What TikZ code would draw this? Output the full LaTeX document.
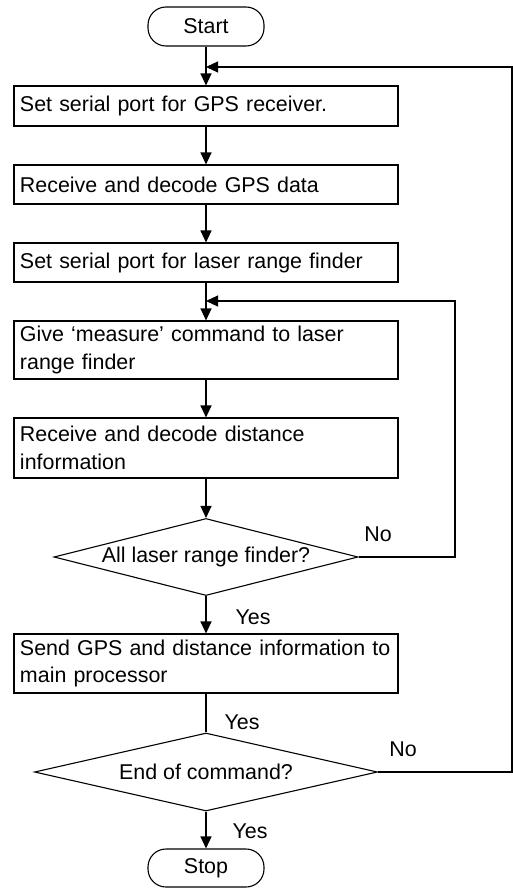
\documentclass[tikz,border=0pt]{standalone}
\usepackage{fontspec}
\setmainfont{Liberation Sans}
\usetikzlibrary{arrows.meta, shapes.geometric}

\tikzset{
  every node/.style={font=\fontsize{21.5}{27.5}\selectfont},
  terminal/.style={draw, rounded corners=18bp, minimum width=116bp, minimum height=39bp, inner sep=0pt},
  process/.style={draw, rectangle, minimum width=384bp, text width=372bp, align=left, inner xsep=6bp, inner ysep=0pt},
  decision/.style={draw, diamond, inner sep=0pt},
  flow/.style={-{Triangle[length=12bp,width=11bp]}},
}

\begin{document}
\begin{tikzpicture}[x=1bp, y=-1bp, line width=1.1bp]
\useasboundingbox (0,0) rectangle (513,888);

\node[terminal] (start) at (206,26.5) {Start};
\node[process, minimum height=40bp] (setgps) at (206,106) {Set serial port for GPS receiver.};
\node[process, minimum height=39bp] (decgps) at (206,184.5) {Receive and decode GPS data};
\node[process, minimum height=39bp] (setlrf) at (206,262.5) {Set serial port for laser range finder};
\node[process, minimum height=58bp] (measure) at (206,350) {Give `measure' command to laser\\range finder};
\node[process, minimum height=60bp] (decdist) at (206,448) {Receive and decode distance\\information};
\node[decision, aspect=3.95, minimum width=304bp, minimum height=77bp] (alllrf) at (206,557) {All laser range finder?};
\node[process, minimum height=59bp] (send) at (206,663.5) {Send GPS and distance information to\\main processor};
\node[decision, aspect=4.4, minimum width=343bp, minimum height=78bp] (endcmd) at (206,772) {End of command?};
\node[terminal, minimum height=38bp] (stop) at (206,868) {Stop};

\coordinate (j1) at (206,67);
\coordinate (r1) at (512,67);
\coordinate (j2) at (206,301);
\coordinate (r2) at (455,301);

\draw[flow] (start) -- (setgps);
\draw[flow] (setgps) -- (decgps);
\draw[flow] (decgps) -- (setlrf);
\draw[flow] (setlrf) -- (measure);
\draw[flow] (measure) -- (decdist);
\draw[flow] (decdist) -- (alllrf);
\draw[flow] (alllrf) -- (send);
\draw (send) -- (endcmd);
\draw[flow] (endcmd) -- (stop);
\draw[flow] (alllrf.east) -| (r2) -- (j2);
\draw[flow] (endcmd.east) -| (r1) -- (j1);

\node (no1) at (378,534) {No};
\node (yes1) at (253,617) {Yes};
\node (yes2) at (242,722) {Yes};
\node (no2) at (403,749) {No};
\node (yes3) at (250,831) {Yes};
\end{tikzpicture}
\end{document}
